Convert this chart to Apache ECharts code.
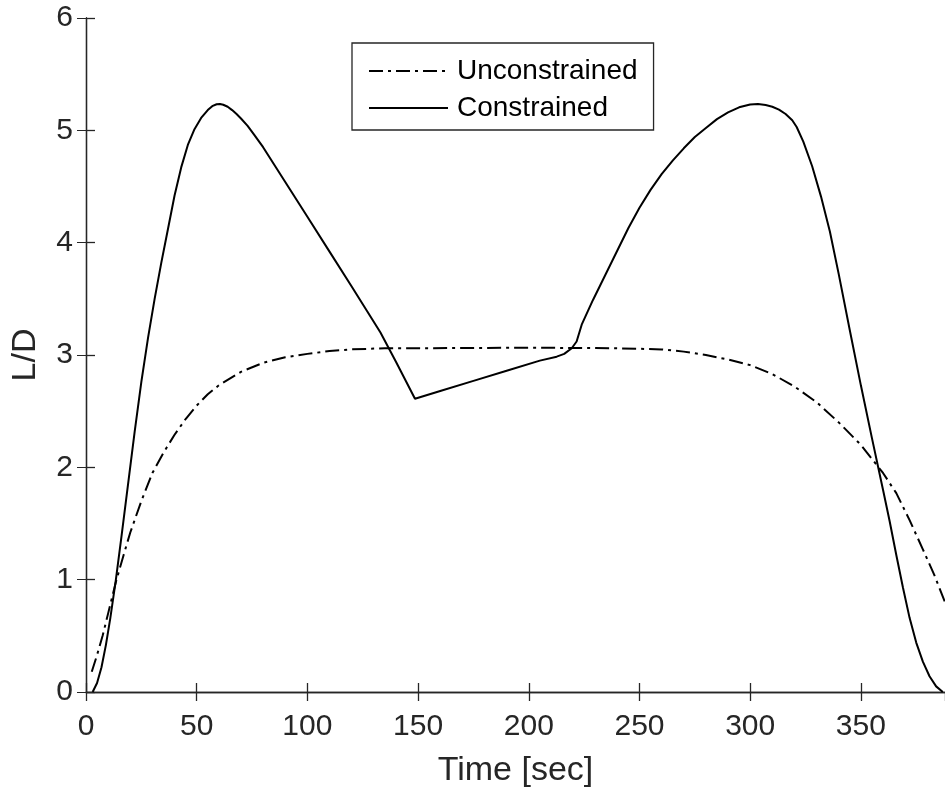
<!DOCTYPE html>
<html>
<head>
<meta charset="utf-8">
<script src="https://cdn.jsdelivr.net/npm/echarts@6/dist/echarts.min.js"></script>
<style>html,body{margin:0;padding:0;background:#fff;overflow:hidden;}#c{width:945px;height:794px;}</style>
</head>
<body>
<div id="c"></div>
<script>
var constrainedT = [3,5,7,9,11,13.5,16,19,22,25,28,31,34,37,40,43,46,49,52,55,57,59,60.5,62,64,66,68,70,73,76,80,90,100,110,120,127,133,140,148.6,160,175,190,205,212.6,216,219.4,221.6,223.9,229,235,240,245,250,255,260,265,270,275,280,285,290,295,300,303.5,307,310,313,316,319,321,324,328,332,336,340,345,350,355,360,363,366,369,372,375,378,381,384,387];
var constrainedV = [0,0.08,0.22,0.42,0.66,1.0,1.38,1.85,2.32,2.76,3.15,3.5,3.82,4.12,4.42,4.67,4.87,5.01,5.11,5.18,5.215,5.232,5.235,5.228,5.21,5.18,5.145,5.105,5.04,4.96,4.85,4.54,4.23,3.92,3.61,3.39,3.2,2.94,2.61,2.68,2.77,2.86,2.95,2.985,3.01,3.06,3.12,3.27,3.49,3.73,3.93,4.13,4.31,4.47,4.61,4.73,4.84,4.94,5.02,5.1,5.16,5.205,5.23,5.235,5.225,5.21,5.185,5.145,5.09,5.03,4.9,4.68,4.41,4.1,3.72,3.22,2.73,2.26,1.8,1.52,1.22,0.93,0.66,0.44,0.27,0.14,0.05,0.0];
var unconstrainedT = [2.6,5,7.5,10,13.5,17,20,25,30,35,40,45,50,55,60,70,80,90,100,110,120,135,150,200,240,260,270,280,290,300,310,320,330,340,350,360,366,372,378,383,388];
var unconstrainedV = [0.18,0.33,0.5,0.7,0.98,1.22,1.42,1.7,1.95,2.13,2.29,2.43,2.55,2.65,2.73,2.85,2.93,2.98,3.01,3.035,3.05,3.06,3.06,3.065,3.06,3.05,3.03,3.0,2.96,2.91,2.83,2.72,2.58,2.4,2.2,1.95,1.77,1.53,1.27,1.05,0.8];
var seriesNames = ['Unconstrained', 'Constrained'];
var xTitle = 'Time [sec]';
var yTitle = 'L/D';

function pairs(t, v) { return t.map(function (x, i) { return [x, v[i]]; }); }

var axisColor = '#262626';
var font = 'Liberation Sans, Arial, Helvetica, sans-serif';
var chart = echarts.init(document.getElementById('c'), null, {renderer: 'canvas'});
chart.setOption({
  animation: false,
  backgroundColor: '#fff',
  grid: {left: 86, width: 860, top: 18, height: 674, containLabel: false},
  legend: {
    data: seriesNames,
    orient: 'vertical',
    left: 352, top: 43,
    padding: [13, 16, 7, 16],
    itemWidth: 79, itemHeight: 14, itemGap: 7,
    borderColor: axisColor, borderWidth: 1.3,
    backgroundColor: '#fff',
    itemStyle: {opacity: 0},
    textStyle: {fontFamily: font, fontSize: 28, color: '#000', lineHeight: 30, padding: [0, 0, 0, 4]}
  },
  xAxis: [{
    type: 'value', min: 0, max: 388, interval: 50,
    name: xTitle, nameLocation: 'middle', nameGap: 62,
    nameTextStyle: {fontFamily: font, fontSize: 34, color: axisColor},
    axisLine: {show: true, lineStyle: {color: axisColor, width: 1.3}},
    axisTick: {show: true, inside: true, length: 9, lineStyle: {color: axisColor, width: 1.3}},
    axisLabel: {fontFamily: font, fontSize: 30, color: axisColor, margin: 20, showMaxLabel: false},
    splitLine: {show: false}
  }, {
    type: 'value', min: 0, max: 388, interval: 50, position: 'top',
    axisLine: {show: true, lineStyle: {color: axisColor, width: 1.3}},
    axisTick: {show: true, inside: true, length: 9, lineStyle: {color: axisColor, width: 1.3}},
    axisLabel: {show: false}, splitLine: {show: false}
  }],
  yAxis: [{
    type: 'value', min: 0, max: 6, interval: 1,
    name: yTitle, nameLocation: 'middle', nameGap: 43, nameRotate: 90,
    nameTextStyle: {fontFamily: font, fontSize: 34, color: axisColor},
    axisLine: {show: true, lineStyle: {color: axisColor, width: 1.3}},
    axisTick: {show: true, inside: true, length: 9, lineStyle: {color: axisColor, width: 1.3}},
    axisLabel: {fontFamily: font, fontSize: 30, color: axisColor, margin: 13},
    splitLine: {show: false}
  }, {
    type: 'value', min: 0, max: 6, interval: 1, position: 'right',
    axisLine: {show: true, lineStyle: {color: axisColor, width: 1.3}},
    axisTick: {show: true, inside: true, length: 9},
    axisLabel: {show: false}, splitLine: {show: false}
  }],
  series: [{
    name: seriesNames[0], type: 'line', symbol: 'none', smooth: false,
    data: pairs(unconstrainedT, unconstrainedV),
    lineStyle: {color: '#000', width: 2, type: [14, 5, 3, 5]},
    itemStyle: {color: '#000'}
  }, {
    name: seriesNames[1], type: 'line', symbol: 'none', smooth: false,
    data: pairs(constrainedT, constrainedV),
    lineStyle: {color: '#000', width: 2, type: 'solid'},
    itemStyle: {color: '#000'}
  }]
});
</script>
</body>
</html>
